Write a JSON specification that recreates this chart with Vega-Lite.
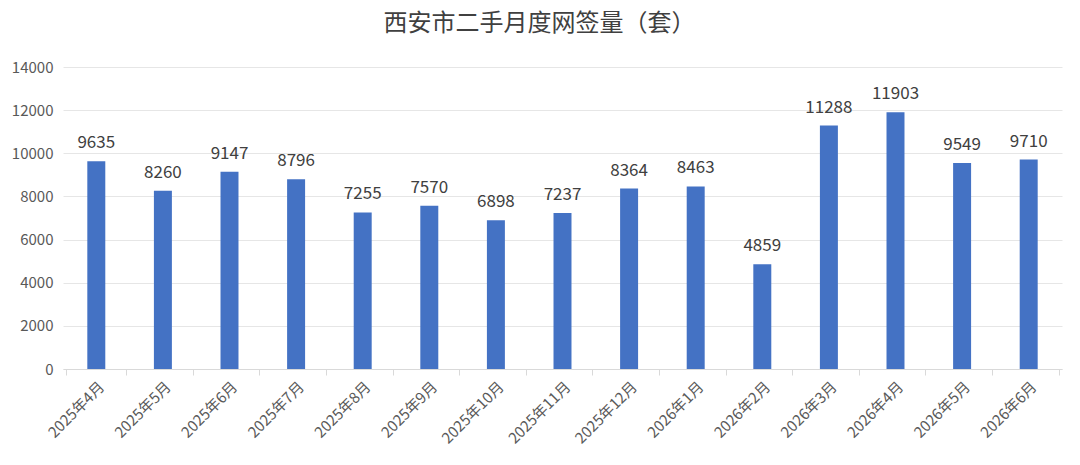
{
  "$schema": "https://vega.github.io/schema/vega-lite/v6.json",
  "width": 999,
  "height": 302,
  "autosize": "none",
  "padding": {"left": 63, "top": 67, "right": 18, "bottom": 96},
  "background": "white",
  "title": {
    "text": "西安市二手月度网签量（套）",
    "font": "Noto Sans CJK SC",
    "fontSize": 24,
    "fontWeight": "normal",
    "color": "#404040",
    "offset": 24,
    "dx": -23
  },
  "data": {
    "values": [
      {"month": "2025年4月", "count": 9635},
      {"month": "2025年5月", "count": 8260},
      {"month": "2025年6月", "count": 9147},
      {"month": "2025年7月", "count": 8796},
      {"month": "2025年8月", "count": 7255},
      {"month": "2025年9月", "count": 7570},
      {"month": "2025年10月", "count": 6898},
      {"month": "2025年11月", "count": 7237},
      {"month": "2025年12月", "count": 8364},
      {"month": "2026年1月", "count": 8463},
      {"month": "2026年2月", "count": 4859},
      {"month": "2026年3月", "count": 11288},
      {"month": "2026年4月", "count": 11903},
      {"month": "2026年5月", "count": 9549},
      {"month": "2026年6月", "count": 9710}
    ]
  },
  "encoding": {
    "x": {
      "field": "month",
      "type": "nominal",
      "sort": null,
      "title": null,
      "axis": {
        "labelAngle": -45,
        "labelFont": "Noto Sans CJK SC",
        "labelFontSize": 15,
        "labelColor": "#595959",
        "labelPadding": 4,
        "tickBand": "extent",
        "tickColor": "#d9d9d9",
        "tickSize": 6,
        "domainColor": "#d9d9d9",
        "grid": false
      }
    },
    "y": {
      "field": "count",
      "type": "quantitative",
      "title": null,
      "scale": {"domain": [0, 14000]},
      "axis": {
        "values": [0, 2000, 4000, 6000, 8000, 10000, 12000, 14000],
        "format": "d",
        "labelFont": "Noto Sans CJK SC",
        "labelFontSize": 15,
        "labelColor": "#595959",
        "labelPadding": 10,
        "domain": false,
        "ticks": false,
        "gridColor": "#e6e6e6"
      }
    }
  },
  "layer": [
    {
      "mark": {"type": "bar", "color": "#4472C4", "width": {"band": 0.3}}
    },
    {
      "mark": {
        "type": "text",
        "baseline": "bottom",
        "dy": -9,
        "font": "Noto Sans CJK SC",
        "fontSize": 17,
        "color": "#404040"
      },
      "encoding": {"text": {"field": "count", "type": "quantitative", "format": "d"}}
    }
  ],
  "config": {"view": {"stroke": null}}
}
